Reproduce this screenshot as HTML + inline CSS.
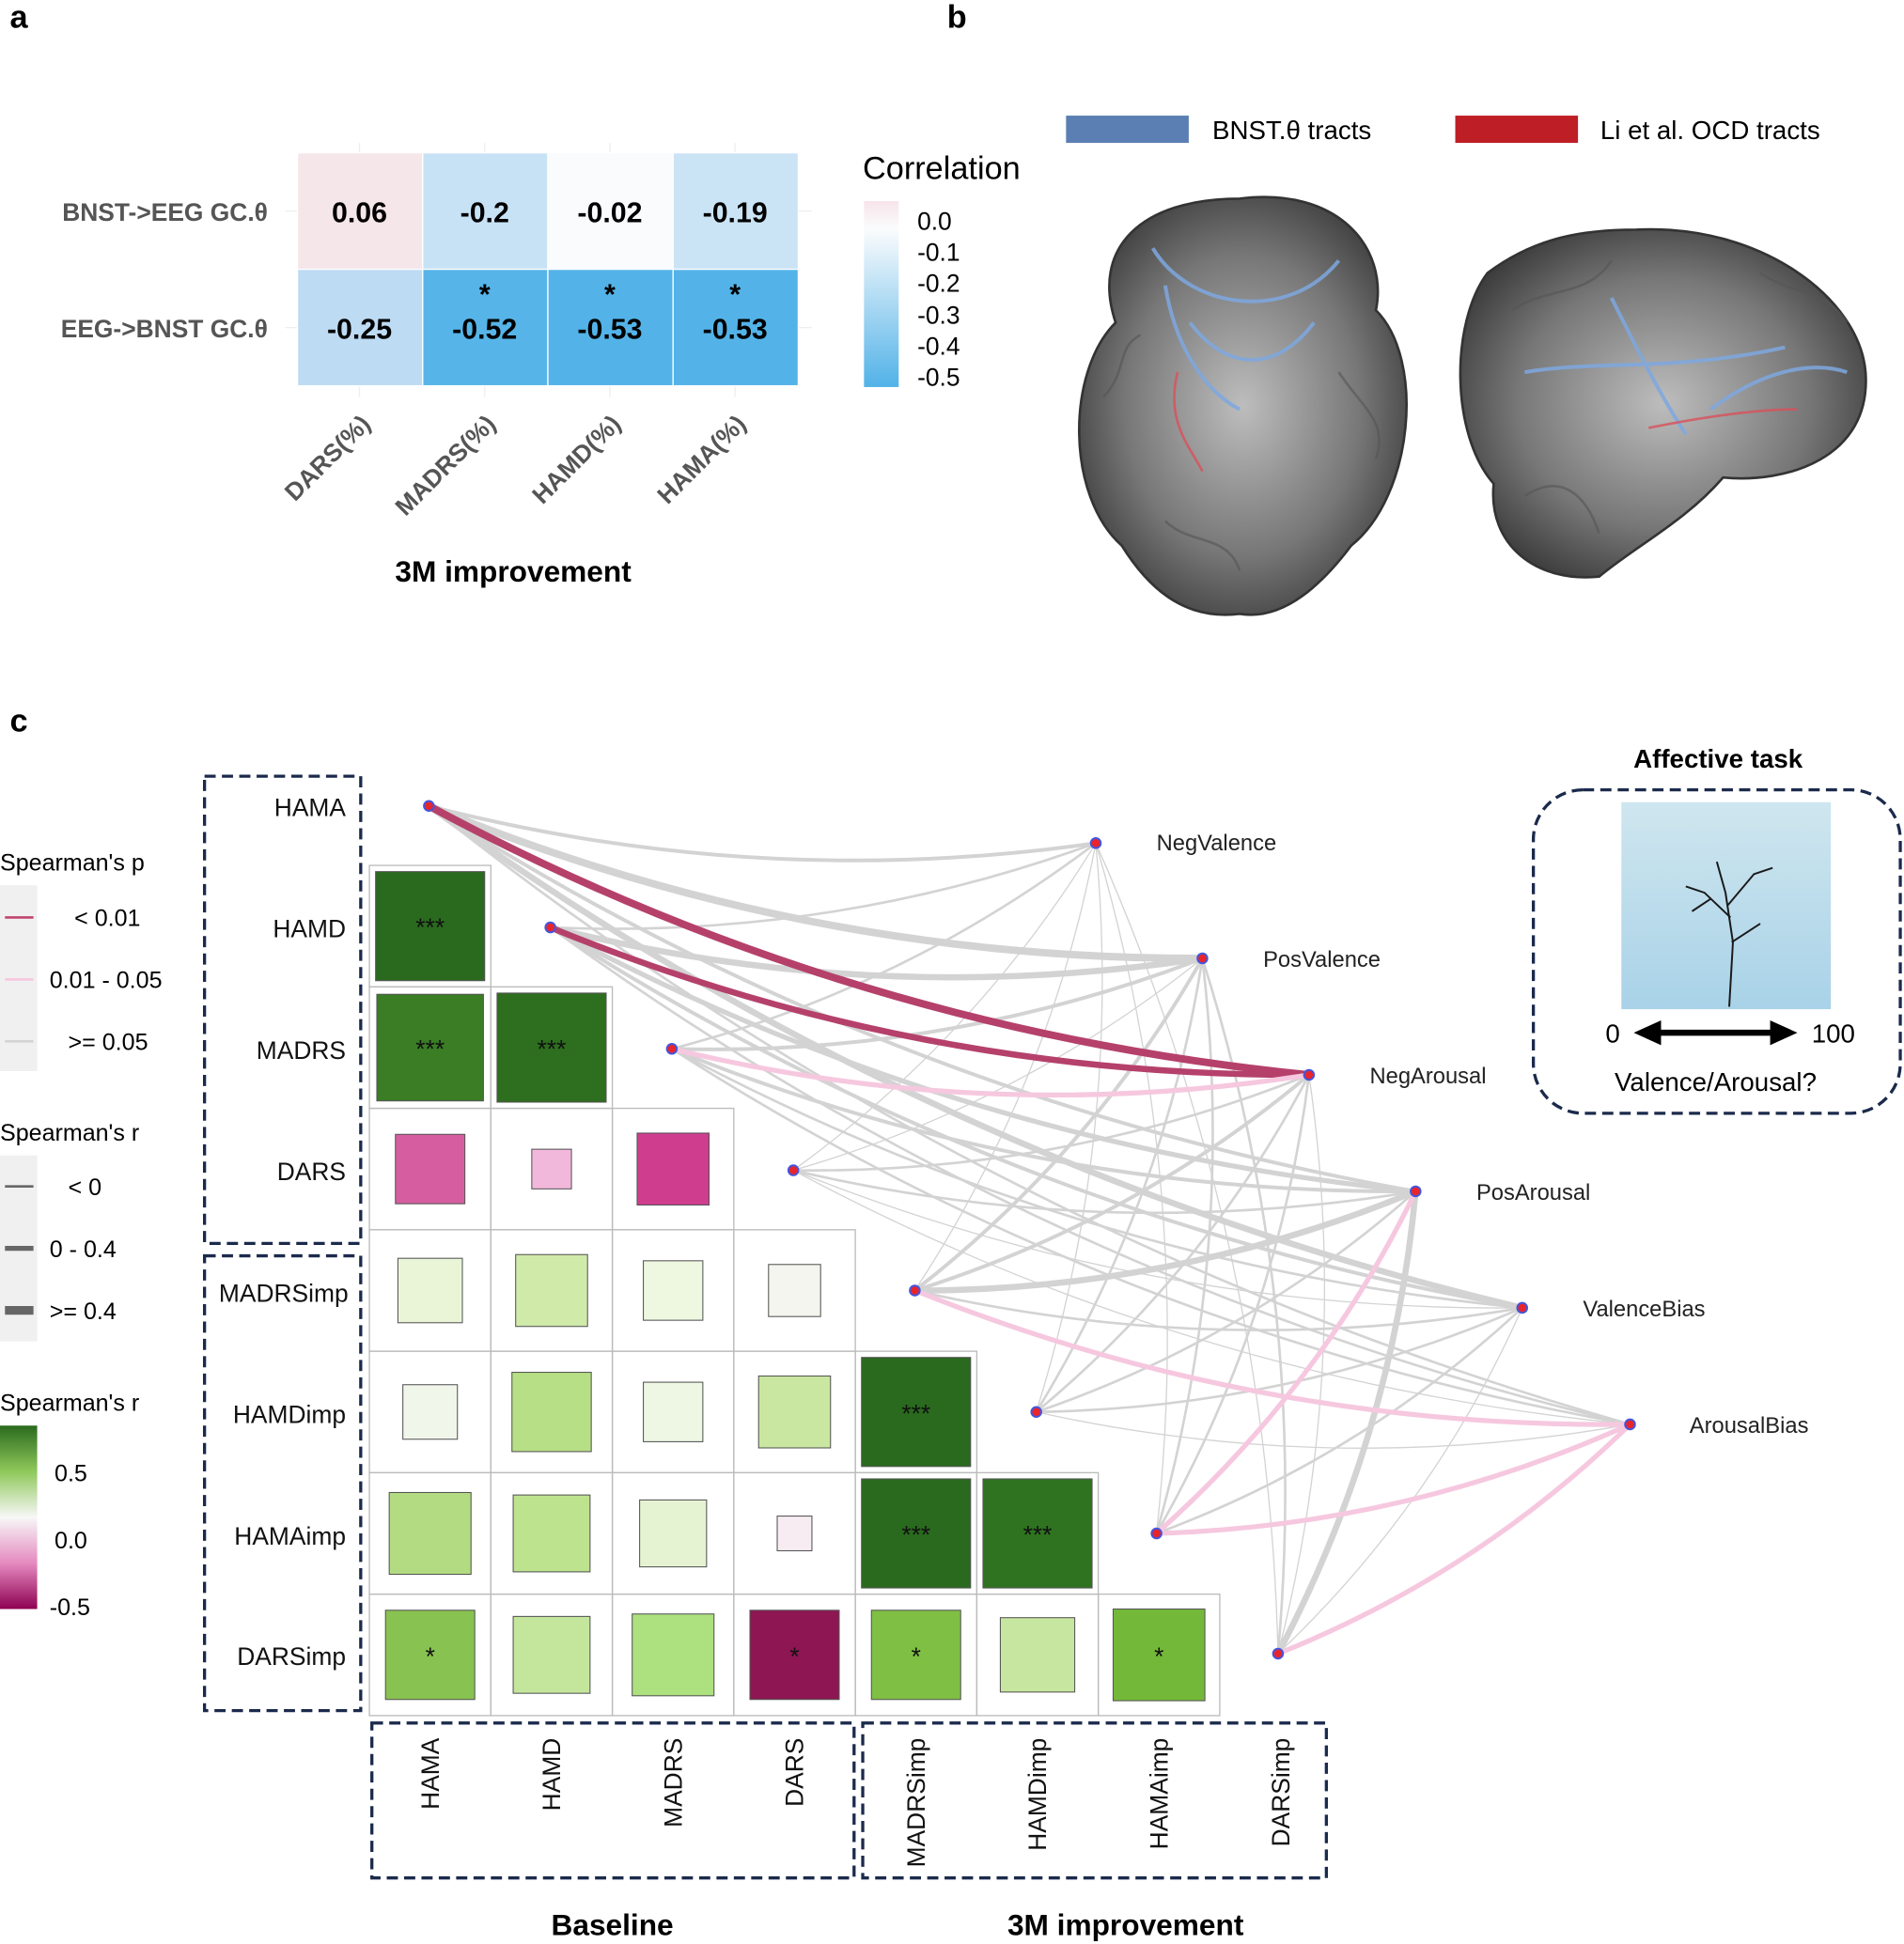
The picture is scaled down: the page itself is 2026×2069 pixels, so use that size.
<!DOCTYPE html>
<html><head><meta charset="utf-8"><style>
html,body{margin:0;padding:0;background:#fff}
svg{display:block}
text{font-family:"Liberation Sans",Arial,sans-serif}
</style></head><body>
<svg id="s" width="2026" height="2069" viewBox="0 0 1536 1568" xmlns="http://www.w3.org/2000/svg">
<defs>
<linearGradient id="cb" x1="0" y1="0" x2="0" y2="1"><stop offset="0" stop-color="#f7e4ea"/><stop offset="0.15" stop-color="#fbfcfd"/><stop offset="1" stop-color="#52b2e8"/></linearGradient>
<linearGradient id="gb" x1="0" y1="0" x2="0" y2="1"><stop offset="0" stop-color="#2a6a1e"/><stop offset="0.25" stop-color="#8fc85a"/><stop offset="0.5" stop-color="#f7f7f7"/><stop offset="0.75" stop-color="#e58ac0"/><stop offset="1" stop-color="#8e0152"/></linearGradient>
<linearGradient id="sky" x1="0" y1="0" x2="0" y2="1"><stop offset="0" stop-color="#cfe6ef"/><stop offset="1" stop-color="#a9d2e8"/></linearGradient>
<radialGradient id="br" cx="0.5" cy="0.5" r="0.6"><stop offset="0" stop-color="#bdbdbd"/><stop offset="0.6" stop-color="#777"/><stop offset="1" stop-color="#333"/></radialGradient>
</defs>
<text x="8" y="22" font-size="26" font-weight="bold">a</text>
<text x="764" y="22" font-size="26" font-weight="bold">b</text>
<text x="8" y="590" font-size="26" font-weight="bold">c</text>
<g stroke="#eee" stroke-width="1">
<line x1="230" y1="170" x2="655" y2="170"/><line x1="230" y1="264" x2="655" y2="264"/>
<line x1="290" y1="115" x2="290" y2="320"/><line x1="391" y1="115" x2="391" y2="320"/><line x1="492" y1="115" x2="492" y2="320"/><line x1="593" y1="115" x2="593" y2="320"/>
</g>
<g stroke="#fff" stroke-width="1">
<rect x="240" y="123" width="101" height="94" fill="#f5e6ea"/>
<rect x="341" y="123" width="101" height="94" fill="#c8e2f5"/>
<rect x="442" y="123" width="101" height="94" fill="#f9fbfd"/>
<rect x="543" y="123" width="101" height="94" fill="#cbe4f5"/>
<rect x="240" y="217" width="101" height="94" fill="#bddbf3"/>
<rect x="341" y="217" width="101" height="94" fill="#56b4e8"/>
<rect x="442" y="217" width="101" height="94" fill="#53b3e8"/>
<rect x="543" y="217" width="101" height="94" fill="#53b3e8"/>
</g>
<g font-size="23" font-weight="bold" text-anchor="middle">
<text x="290" y="179">0.06</text><text x="391" y="179">-0.2</text><text x="492" y="179">-0.02</text><text x="593" y="179">-0.19</text>
<text x="290" y="273">-0.25</text><text x="391" y="273">-0.52</text><text x="492" y="273">-0.53</text><text x="593" y="273">-0.53</text>
<text x="391" y="245">*</text><text x="492" y="245">*</text><text x="593" y="245">*</text>
</g>
<g font-size="20" font-weight="bold" fill="#555" text-anchor="end">
<text x="216" y="178">BNST-&gt;EEG GC.θ</text><text x="216" y="272">EEG-&gt;BNST GC.θ</text>
</g>
<g font-size="20" font-weight="bold" fill="#555" text-anchor="end">
<text transform="translate(300,343) rotate(-45)">DARS(%)</text>
<text transform="translate(401,343) rotate(-45)">MADRS(%)</text>
<text transform="translate(502,343) rotate(-45)">HAMD(%)</text>
<text transform="translate(603,343) rotate(-45)">HAMA(%)</text>
</g>
<text x="414" y="469" font-size="24" font-weight="bold" text-anchor="middle">3M improvement</text>
<text x="696" y="144" font-size="26">Correlation</text>
<rect x="697" y="162" width="28" height="150" fill="url(#cb)"/>
<g font-size="20"><text x="740" y="185">0.0</text><text x="740" y="210">-0.1</text><text x="740" y="235">-0.2</text><text x="740" y="261">-0.3</text><text x="740" y="286">-0.4</text><text x="740" y="311">-0.5</text></g>
<rect x="860" y="93" width="99" height="22" fill="#5b7fb2"/>
<text x="978" y="112" font-size="21">BNST.θ tracts</text>
<rect x="1174" y="93" width="99" height="22" fill="#be1e25"/>
<text x="1291" y="112" font-size="21">Li et al. OCD tracts</text>
<path d="M1000,160 C1080,150 1120,200 1110,250 C1150,290 1140,400 1090,440 C1060,480 1030,500 1000,495 C960,500 930,480 905,440 C860,400 860,300 900,260 C880,200 920,160 1000,160Z" fill="url(#br)" stroke="#333" stroke-width="2"/>
<path d="M1320,185 C1420,180 1500,240 1505,300 C1510,370 1440,390 1390,385 C1360,420 1320,440 1290,465 C1240,470 1200,440 1205,390 C1170,350 1170,260 1200,220 C1240,190 1280,185 1320,185Z" fill="url(#br)" stroke="#333" stroke-width="2"/>
<g fill="none" stroke="#555" stroke-width="2" opacity="0.6">
<path d="M890,320 C910,300 900,280 920,270"/><path d="M1080,300 C1100,330 1120,340 1110,370"/><path d="M940,420 C960,440 990,430 1000,460"/><path d="M1220,250 C1250,230 1280,240 1300,210"/><path d="M1420,220 C1450,240 1470,230 1490,260"/><path d="M1230,400 C1260,380 1280,400 1290,430"/>
</g>
<g fill="none" stroke="#7ea8e0" stroke-width="3" opacity="0.85">
<path d="M930,200 C960,250 1040,260 1080,210"/><path d="M960,260 C990,300 1030,300 1060,260"/><path d="M940,230 C950,290 980,320 1000,330"/>
<path d="M1230,300 C1290,290 1350,300 1440,280"/><path d="M1300,240 C1320,280 1340,320 1360,350"/><path d="M1380,330 C1420,300 1460,290 1490,300"/>
</g>
<g fill="none" stroke="#d9505a" stroke-width="2" opacity="0.8"><path d="M950,300 C940,340 960,360 970,380"/><path d="M1330,345 C1380,335 1420,330 1450,330"/></g>
<g id="edges" fill="none"></g>
<g id="cells"></g>
<g id="nodes" fill="#e8252b" stroke="#4455dd" stroke-width="1.5"></g>
<g font-size="18" fill="#222">
<text x="933" y="686">NegValence</text><text x="1019" y="780">PosValence</text><text x="1105" y="874">NegArousal</text>
<text x="1191" y="968">PosArousal</text><text x="1277" y="1062">ValenceBias</text><text x="1363" y="1156">ArousalBias</text>
</g>
<g font-size="20" text-anchor="end" fill="#111">
<text x="279" y="658">HAMA</text><text x="279" y="756">HAMD</text><text x="279" y="854">MADRS</text><text x="279" y="952">DARS</text>
<text x="281" y="1050">MADRSimp</text><text x="279" y="1148">HAMDimp</text><text x="279" y="1246">HAMAimp</text><text x="279" y="1343">DARSimp</text>
</g>
<g font-size="20" text-anchor="end" fill="#111">
<text transform="translate(354,1402) rotate(-90)">HAMA</text>
<text transform="translate(452,1402) rotate(-90)">HAMD</text>
<text transform="translate(550,1402) rotate(-90)">MADRS</text>
<text transform="translate(648,1402) rotate(-90)">DARS</text>
<text transform="translate(746,1402) rotate(-90)">MADRSimp</text>
<text transform="translate(844,1402) rotate(-90)">HAMDimp</text>
<text transform="translate(942,1402) rotate(-90)">HAMAimp</text>
<text transform="translate(1040,1402) rotate(-90)">DARSimp</text>
</g>
<g fill="none" stroke="#1b2a4c" stroke-width="2.5" stroke-dasharray="9,5">
<rect x="165" y="626" width="126" height="377"/><rect x="165" y="1013" width="126" height="367"/>
<rect x="300" y="1390" width="389" height="125"/><rect x="696" y="1390" width="374" height="125"/>
<rect x="1237" y="637" width="296" height="261" rx="40"/>
</g>
<text x="494" y="1561" font-size="24" font-weight="bold" text-anchor="middle">Baseline</text>
<text x="908" y="1561" font-size="24" font-weight="bold" text-anchor="middle">3M improvement</text>
<text x="1386" y="619" font-size="21" font-weight="bold" text-anchor="middle">Affective task</text>
<rect x="1308" y="647" width="169" height="167" fill="url(#sky)"/>
<g stroke="#1a1a1a" fill="none" stroke-width="1.5"><path d="M1395,812 L1398,760 L1392,720"/><path d="M1396,740 L1375,720 L1360,715"/><path d="M1394,730 L1415,705 L1430,700"/><path d="M1392,720 L1385,695"/><path d="M1397,760 L1420,745"/><path d="M1380,725 L1365,735"/></g>
<text x="1301" y="841" font-size="21" text-anchor="middle">0</text>
<text x="1479" y="841" font-size="21" text-anchor="middle">100</text>
<line x1="1335" y1="833" x2="1432" y2="833" stroke="#000" stroke-width="5"/>
<polygon points="1318,833 1340,823 1340,843" fill="#000"/><polygon points="1450,833 1428,823 1428,843" fill="#000"/>
<text x="1384" y="880" font-size="21" text-anchor="middle">Valence/Arousal?</text>
<text x="0" y="702" font-size="19">Spearman's p</text>
<rect x="0" y="714" width="30" height="150" fill="#f0f0f0"/>
<line x1="4" y1="740" x2="27" y2="740" stroke="#c0446e" stroke-width="2"/>
<line x1="4" y1="790" x2="27" y2="790" stroke="#f5c6de" stroke-width="2"/>
<line x1="4" y1="840" x2="27" y2="840" stroke="#d3d3d3" stroke-width="2"/>
<g font-size="19"><text x="60" y="747">&lt; 0.01</text><text x="40" y="797">0.01 - 0.05</text><text x="55" y="847">&gt;= 0.05</text></g>
<text x="0" y="920" font-size="19">Spearman's r</text>
<rect x="0" y="932" width="30" height="150" fill="#f0f0f0"/>
<line x1="4" y1="957" x2="27" y2="957" stroke="#666" stroke-width="2"/>
<line x1="4" y1="1007" x2="27" y2="1007" stroke="#666" stroke-width="4"/>
<line x1="4" y1="1057" x2="27" y2="1057" stroke="#666" stroke-width="7"/>
<g font-size="19"><text x="55" y="964">&lt; 0</text><text x="40" y="1014">0 - 0.4</text><text x="40" y="1064">&gt;= 0.4</text></g>
<text x="0" y="1138" font-size="19">Spearman's r</text>
<rect x="0" y="1150" width="30" height="148" fill="url(#gb)"/>
<g font-size="19"><text x="44" y="1195">0.5</text><text x="44" y="1249">0.0</text><text x="40" y="1303">-0.5</text></g>
</svg>
<script>
var NS="http://www.w3.org/2000/svg";
function el(p,t,a){var e=document.createElementNS(NS,t);for(var k in a)e.setAttribute(k,a[k]);p.appendChild(e);return e;}
var L=[[346,650],[444,748],[542,846],[640,944],[738,1041],[836,1139],[933,1237],[1031,1334]];
var R=[[884,680],[970,773],[1056,867],[1142,961],[1228,1055],[1315,1149]];
var E=document.getElementById('edges');
var W=[[3,6,6,3,5,2],[2,5,6,4,3,2],[2,3,3,3,2,2],[1,1,2,2,1,1],[1,3,3,5,2,2],[1,2,2,2,2,1],[1,2,2,2,2,2],[1,2,1,5,1,2]];
var special={"0,2":["#b5416b",6],"1,2":["#b5416b",5],"2,2":["#f6c8df",4],"4,5":["#f6c8df",4],"6,3":["#f6c8df",4],"6,5":["#f6c8df",4],"7,5":["#f6c8df",4]};
var later=[];
for(var i=0;i<8;i++)for(var j=0;j<6;j++){
 var a=L[i],b=R[j],mx=(a[0]+b[0])/2,my=(a[1]+b[1])/2,dx=b[0]-a[0],dy=b[1]-a[1];
 var cx=mx-dy*0.1,cy=my+dx*0.1;
 var d="M"+a[0]+","+a[1]+" Q"+cx+","+cy+" "+b[0]+","+b[1];
 var s=special[i+","+j];
 if(s)later.push([d,s]);else el(E,'path',{d:d,stroke:'#d3d3d3','stroke-width':W[i][j]});
}
later.forEach(function(x){el(E,'path',{d:x[0],stroke:x[1][0],'stroke-width':x[1][1]});});
var C=document.getElementById('cells');
var data={1:[["#2a6a1e",88,"***"]],
2:[["#3a7d25",86,"***"],["#2e6e1f",88,"***"]],
3:[["#d65ea0",56],["#f2b8dc",32],["#cf3d8e",58]],
4:[["#eaf5d8",52],["#d0eaaa",58],["#eef7e0",48],["#f3f5ee",42]],
5:[["#f1f6ea",44],["#b7df85",64],["#eef7e4",48],["#c9e7a0",58],["#2a6a1e",88,"***"]],
6:[["#b3dc82",66],["#bde38f",62],["#e6f3d2",54],["#f7ecf2",28],["#2a6a1e",88,"***"],["#2f7321",88,"***"]],
7:[["#88c250",72,"*"],["#c4e69c",62],["#ade07e",66],["#8e1652",72,"*"],["#7fbf44",72,"*"],["#c7e7a0",60],["#74b83a",74,"*"]]};
for(var r=1;r<8;r++){var row=data[r];for(var c=0;c<row.length;c++){
 var x0=298+c*98,y0=600+r*98;
 el(C,'rect',{x:x0,y:y0,width:98,height:98,fill:'none',stroke:'#bbb','stroke-width':1});
 var sz=row[c][1],cx=x0+49,cy=y0+49;
 el(C,'rect',{x:cx-sz/2,y:cy-sz/2,width:sz,height:sz,fill:row[c][0],stroke:'#555','stroke-width':0.8});
 if(row[c][2]){var t=el(C,'text',{x:cx,y:cy+8,'font-size':20,'text-anchor':'middle',fill:'#111'});t.textContent=row[c][2];}
}}
var N=document.getElementById('nodes');
L.concat(R).forEach(function(p){el(N,'circle',{cx:p[0],cy:p[1],r:4});});
</script>
</body></html>
